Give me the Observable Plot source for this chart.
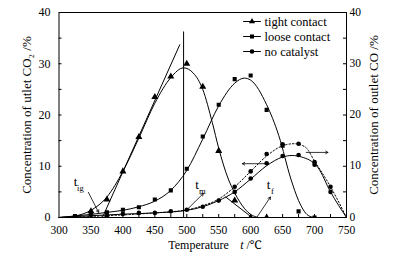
<!DOCTYPE html>
<html><head><meta charset="utf-8">
<script src="https://cdn.jsdelivr.net/npm/d3@7"></script>
<script src="https://cdn.jsdelivr.net/npm/@observablehq/plot@0.6"></script>
<style>
body{margin:0;background:#fff}
svg, svg text { font-family: "Liberation Serif", "Times New Roman", Tinos, Times, "Noto Serif", "DejaVu Serif", serif !important; }
</style>
</head><body><div id="chart"></div>
<script>
// ---- data ----
const xTicks = [300, 350, 400, 450, 500, 550, 600, 650, 700, 750];
const yTicks = [0, 10, 20, 30, 40];
const xMinor = [325, 375, 425, 475, 525, 575, 625, 675, 725];
const yMinor = [5, 15, 25, 35];

// measured points
const tightT = [350, 375, 400, 425, 450, 475, 500, 525, 550, 575, 600, 625];
const tightV = [1.2, 3.5, 9.0, 15.7, 23.5, 27.5, 30.0, 25.5, 13.0, 3.3, 0, 0];
const looseT = [325, 350, 375, 400, 425, 450, 475, 500, 525, 550, 575, 600, 625, 650, 675, 700];
const looseV = [0.3, 0.8, 1.0, 1.5, 2.0, 3.5, 5.3, 9.5, 15.8, 22.0, 27.0, 27.7, 21.0, 14.0, 1.2, 0];
const noCatT = [350, 375, 400, 425, 450, 475, 500, 525, 550, 575, 600, 625, 650, 675, 700, 725];
const noCatCO2 = [0.5, 0.3, 0.7, 0.9, 0.9, 1.2, 1.5, 2.1, 3.3, 5.0, 7.6, 10.6, 12.0, 12.2, 10.3, 5.0];
const noCatCOT = [575, 600, 625, 650, 675, 700, 725];
const noCatCO = [6.0, 9.0, 12.4, 14.3, 14.4, 10.8, 6.0];

// fitted curves
const tightFitT = [300, 325, 350, 375, 400, 425, 450, 475, 495, 510, 525, 540, 550, 565, 575, 590, 600, 612];
const tightFitV = [0, 0.3, 1.4, 4.0, 9.0, 15.5, 22.3, 27.3, 29.2, 28.2, 25.0, 18.5, 13.5, 7.5, 4.8, 1.8, 0.6, 0];
const looseFitT = [300, 325, 350, 375, 400, 425, 450, 475, 500, 525, 550, 575, 590, 600, 625, 644, 663, 675, 690, 700];
const looseFitV = [0, 0.3, 0.6, 1.0, 1.4, 2.1, 3.2, 5.3, 9.2, 15.3, 21.8, 26.2, 27.2, 26.8, 22.0, 16.0, 7.5, 3.3, 0.4, 0];
const co2FitT = [300, 350, 400, 450, 500, 525, 550, 575, 600, 625, 650, 665, 680, 705, 725, 750];
const co2FitV = [0, 0.35, 0.65, 0.9, 1.4, 2.1, 3.3, 5.0, 7.5, 10.1, 11.8, 12.1, 11.8, 9.8, 5.0, 0];
const coFitT = [300, 350, 400, 450, 500, 525, 550, 575, 600, 625, 650, 668, 685, 700, 725, 750];
const coFitV = [0, 0.2, 0.5, 0.9, 1.5, 2.3, 3.6, 6.0, 9.0, 12.0, 14.0, 14.4, 13.8, 11.0, 6.0, 0];

// construction lines
const tangent1T = [368, 489];
const tangent1V = [0, 33.7];
const tangent2T = [561, 600];
const tangent2V = [4.0, 0.2];
const vlineT = 495;
const vlineTop = 36.2;

// annotation arrows
const arrows = [
  {x1: 626, y1: 10.5, x2: 587, y2: 10.5},
  {x1: 687, y1: 12.7, x2: 721, y2: 12.7},
  {x1: 501, y1: 1.6, x2: 526, y2: 4.7},
  {x1: 610, y1: 0.1, x2: 631, y2: 4.0},
  {x1: 346, y1: 4.9, x2: 362, y2: 1.0}
];
const labelMain = [
  {t: 326, v: 7.0, s: "t"},
  {t: 516, v: 6.4, s: "t"},
  {t: 628, v: 6.4, s: "t"}
];
const labelSub = [
  {t: 333.5, v: 5.7, s: "ig"},
  {t: 524.5, v: 5.1, s: "m"},
  {t: 634, v: 5.1, s: "f"}
];

const legendNames = ["tight contact", "loose contact", "no catalyst"];
const legendSymbols = ["triangle", "square", "circle"];

const leftTitle = "Concentration of utlet CO\u2082 /%";
const rightTitle = "Concentration of outlet CO /%";
const xTitle = "Temperature";
const xUnitVar = "t";
const xUnit = "/\u2103";

// ---- layout ----
const W = 398, H = 262, mL = 58.5, mR = 52, mT = 12, mB = 45;
const plotW = W - mL - mR, plotH = H - mT - mB;
const xs = d3.scaleLinear([300, 750], [mL, W - mR]);
const ys = d3.scaleLinear([0, 40], [H - mB, mT]);
const cx = mL + plotW / 2;

const zip = (ts, vs) => ts.map((t, i) => ({t, v: vs[i]}));
const T = {fill: "black"};

const marks = [
  Plot.frame({stroke: "black", strokeWidth: 1}),
  Plot.axisX(xTicks, {anchor: "bottom", tickSize: 0, tickPadding: 8.5, label: null, fontSize: 11.5}),
  Plot.axisY(yTicks, {anchor: "left", tickSize: 0, tickPadding: 8.5, label: null, fontSize: 12}),
  Plot.axisY(yTicks, {anchor: "right", tickSize: 0, tickPadding: 3, label: null, fontSize: 11.5, dy: -0.5}),
  Plot.ruleX(xMinor.concat(xTicks.slice(1, -1)), {x: d => d, insetTop: plotH - 3, stroke: "black"}),
  Plot.ruleY(yMinor.concat(yTicks.slice(1, -1)), {y: d => d, insetRight: plotW - 3, stroke: "black"}),
  Plot.ruleY(yMinor.concat(yTicks.slice(1, -1)), {y: d => d, insetLeft: plotW - 3, stroke: "black"}),
  // curves
  Plot.line(zip(tightFitT, tightFitV), {x: "t", y: "v", curve: "monotone-x", stroke: "black", strokeWidth: 1}),
  Plot.line(zip(looseFitT, looseFitV), {x: "t", y: "v", curve: "monotone-x", stroke: "black", strokeWidth: 1}),
  Plot.line(zip(co2FitT, co2FitV), {x: "t", y: "v", curve: "monotone-x", stroke: "black", strokeWidth: 1}),
  Plot.line(zip(coFitT, coFitV), {x: "t", y: "v", curve: "monotone-x", stroke: "black", strokeWidth: 1, strokeDasharray: "1.5,2"}),
  Plot.line(zip(tangent1T, tangent1V), {x: "t", y: "v", stroke: "black", strokeWidth: 1}),
  Plot.line(zip(tangent2T, tangent2V), {x: "t", y: "v", stroke: "black", strokeWidth: 1}),
  Plot.ruleX([vlineT], {x: d => d, y1: 0, y2: vlineTop, stroke: "black", strokeWidth: 1}),
  // points
  Plot.dot(zip(tightT, tightV), {x: "t", y: "v", symbol: "triangle", fill: "black", r: 2.6, clip: "frame"}),
  Plot.dot(zip(looseT, looseV), {x: "t", y: "v", symbol: "square", fill: "black", r: 2.3, clip: "frame"}),
  Plot.dot(zip(noCatT, noCatCO2), {x: "t", y: "v", symbol: "circle", fill: "black", r: 2.3, clip: "frame"}),
  Plot.dot(zip(noCatCOT, noCatCO), {x: "t", y: "v", symbol: "circle", fill: "black", r: 2.3, clip: "frame"}),
  // arrows & labels
  Plot.arrow(arrows, {x1: "x1", y1: "y1", x2: "x2", y2: "y2", stroke: "black", strokeWidth: 0.8, headLength: 5}),
  Plot.text(labelMain, {x: "t", y: "v", text: "s", fontSize: 13, ...T}),
  Plot.text(labelSub, {x: "t", y: "v", text: "s", fontSize: 8.5, ...T}),
  // axis titles
  Plot.text([leftTitle], {frameAnchor: "left", textAnchor: "middle", dx: -32, rotate: -90, fontSize: 13, ...T}),
  Plot.text([rightTitle], {frameAnchor: "right", textAnchor: "middle", dx: 27, rotate: -90, fontSize: 13, ...T}),
  Plot.text([xTitle], {frameAnchor: "bottom", textAnchor: "middle", dx: 198 - cx, dy: 31, fontSize: 12, ...T}),
  Plot.text([xUnitVar], {frameAnchor: "bottom", textAnchor: "middle", dx: 241.5 - cx, dy: 31, fontSize: 12, fontStyle: "italic", ...T}),
  Plot.text([xUnit], {frameAnchor: "bottom", textAnchor: "start", dx: 246 - cx, dy: 31, fontSize: 12, ...T})
];

// legend
const legendRows = [21, 36, 51];
legendNames.forEach((name, i) => {
  const yv = ys.invert(legendRows[i]);
  marks.push(
    Plot.line([{t: xs.invert(243), v: yv}, {t: xs.invert(260), v: yv}], {x: "t", y: "v", stroke: "black", strokeWidth: 1}),
    Plot.dot([{t: xs.invert(251.5), v: yv}], {x: "t", y: "v", symbol: legendSymbols[i], fill: "black", r: 2.3}),
    Plot.text([{t: xs.invert(264), v: yv, s: name}], {x: "t", y: "v", text: "s", textAnchor: "start", fontSize: 12.5, ...T})
  );
});

const chart = Plot.plot({
  width: W, height: H,
  marginLeft: mL, marginRight: mR, marginTop: mT, marginBottom: mB,
  style: {fontSize: "12px", color: "black", background: "white", overflow: "visible"},
  x: {domain: [300, 750]},
  y: {domain: [0, 40]},
  marks
});
document.getElementById("chart").appendChild(chart);
</script>
</body></html>
